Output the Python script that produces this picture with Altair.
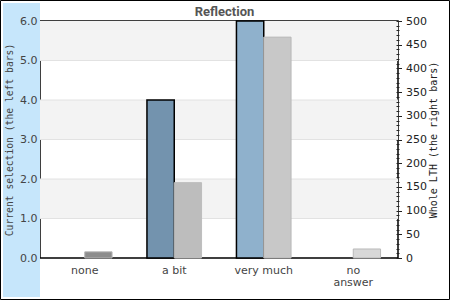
import altair as alt
import pandas as pd

categories = ["none", "a bit", "very much", "no answer"]
current = [0, 4, 6, 0]
whole = [13, 159, 466, 19]

cur_colors = ["#5f7f9b", "#7393ae", "#8fb1cc", "#a9c7de"]
whole_fill = ["#8c8c8c", "#bdbdbd", "#c8c8c8", "#d8d8d8"]
whole_stroke = ["#b3b3b3", "#bdbdbd", "#b9b9b9", "#b9b9b9"]

band_lo = [1, 3, 5]
band_hi = [2, 4, 6]
grid_vals = [1, 2, 3, 4, 5]
left_ticks = [0, 1, 2, 3, 4, 5, 6]
right_ticks = list(range(0, 501, 10))

df = pd.DataFrame({"cat": categories, "current": current, "whole": whole})
bands_df = pd.DataFrame({"lo": band_lo, "hi": band_hi})
grid_df = pd.DataFrame({"g": grid_vals})

xscale = alt.Scale(domain=categories, paddingInner=0.39, paddingOuter=0.195)
xaxis = alt.Axis(
    title=None, ticks=False, domain=False, labelAngle=0,
    labelFont="DejaVu Sans", labelFontSize=11, labelColor="#444",
    labelPadding=6, labelLineHeight=12,
    labelExpr="datum.value == 'no answer' ? ['no', 'answer'] : datum.value",
)
offscale = alt.Scale(domain=["cur", "whole"], paddingInner=0, paddingOuter=0)

lscale = alt.Scale(domain=[0, 6], nice=False)
laxis = alt.Axis(
    title="Current selection (the left bars)", orient="left",
    values=left_ticks, format=".1f", ticks=False, domain=False, grid=False,
    labelFont="DejaVu Sans", labelFontSize=11, labelColor="#444", labelPadding=3,
    titleFont="DejaVu Sans Mono", titleFontSize=9.7, titleFontWeight="normal",
    titleColor="#444", titleAngle=270, titleX=-31, titleY=118.5,
    titleAlign="center", titleBaseline="middle", zindex=1,
)

rscale = alt.Scale(domain=[0, 500], nice=False)
raxis = alt.Axis(
    title="Whole LTH (the right bars)", orient="right",
    values=right_ticks, labelExpr="datum.value % 50 == 0 ? datum.label : ''",
    domain=False, grid=False, offset=-2,
    tickSize={"condition": {"test": "datum.value % 50 == 0", "value": 5.5}, "value": 3},
    tickColor="#222", tickWidth=1,
    labelFont="DejaVu Sans", labelFontSize=11, labelColor="#222", labelPadding=4,
    titleFont="DejaVu Sans Mono", titleFontSize=10, titleFontWeight="normal",
    titleColor="#222", titleAngle=270, titleX=37, titleY=118.5,
    titleAlign="center", titleBaseline="middle", zindex=1,
)

deco_df = pd.DataFrame({"k": [0]})
strip = alt.Chart(deco_df).mark_rect(color="#c6e6fb").encode(
    x=alt.value(-37), x2=alt.value(0), y=alt.value(-18), y2=alt.value(276)
)
border = alt.Chart(deco_df).mark_rect(fillOpacity=0, stroke="black", strokeWidth=1).encode(
    x=alt.value(-39.5), x2=alt.value(409.5), y=alt.value(-20.5), y2=alt.value(278.5)
)

bands = alt.Chart(bands_df).mark_rect(color="#f3f3f3").encode(
    y=alt.Y("lo:Q", scale=lscale, axis=laxis), y2="hi:Q"
)
rules = alt.Chart(grid_df).mark_rule(color="#e2e2e2", strokeWidth=1).encode(
    y=alt.Y("g:Q", scale=lscale, axis=laxis)
)
leftbars = alt.Chart(df).transform_filter("datum.current > 0").transform_calculate(
    s="'cur'"
).mark_bar(stroke="black", strokeWidth=1.5).encode(
    x=alt.X("cat:N", scale=xscale, axis=xaxis, sort=categories),
    xOffset=alt.XOffset("s:N", scale=offscale),
    y=alt.Y("current:Q", scale=lscale, axis=laxis),
    color=alt.Color("cat:N", scale=alt.Scale(domain=categories, range=cur_colors), legend=None),
)
left = alt.layer(bands, rules, leftbars)

rightbars = alt.Chart(df).transform_calculate(s="'whole'").mark_bar(strokeWidth=1).encode(
    x=alt.X("cat:N", scale=xscale, axis=xaxis, sort=categories),
    xOffset=alt.XOffset("s:N", scale=offscale),
    y=alt.Y("whole:Q", scale=rscale, axis=raxis),
    fill=alt.Fill("cat:N", scale=alt.Scale(domain=categories, range=whole_fill), legend=None),
    stroke=alt.Stroke("cat:N", scale=alt.Scale(domain=categories, range=whole_stroke), legend=None),
)

chart = alt.layer(strip, border, left, rightbars).resolve_scale(
    y="independent", color="independent", fill="independent", stroke="independent"
).properties(
    width=358, height=237,
    padding={"left": 40, "top": 21, "right": 52, "bottom": 42},
    autosize=alt.AutoSizeParams(type="none"),
    title=alt.Title("Reflection", font="Roboto", fontSize=13, fontWeight="bold",
                    color="#555", dx=5.5, dy=34, offset=5, baseline="alphabetic",
                    frame="group", anchor="middle"),
    background="white",
).configure_view(stroke="black", strokeWidth=1.5)

chart.save("out.html", embed_options={"renderer": "svg", "actions": False})
